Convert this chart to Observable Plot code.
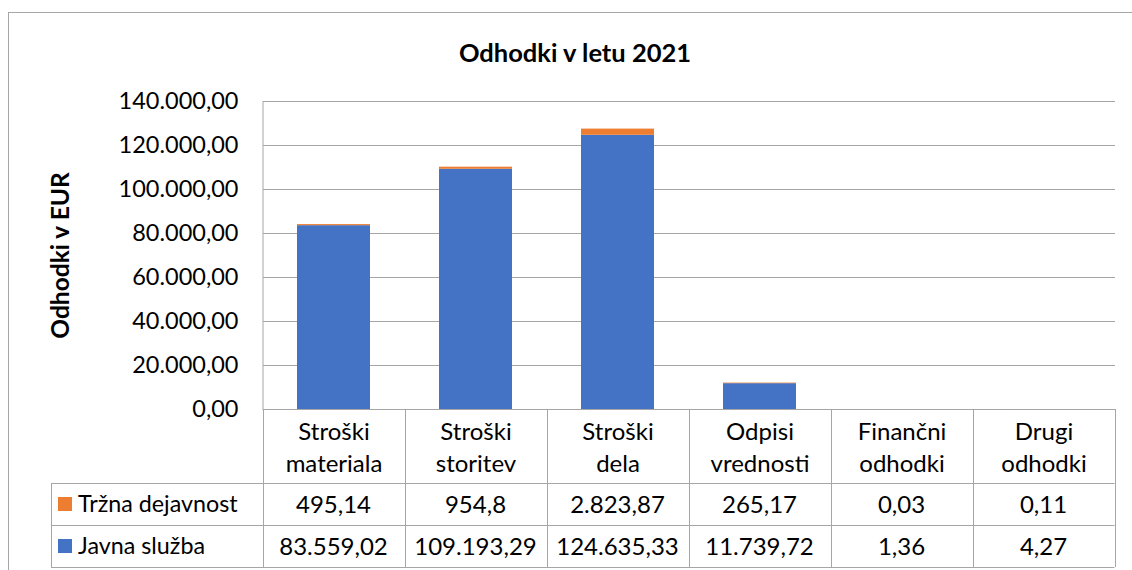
<!DOCTYPE html>
<html>
<head>
<meta charset="utf-8">
<script src="https://cdn.jsdelivr.net/npm/d3@7"></script>
<script src="https://cdn.jsdelivr.net/npm/@observablehq/plot@0.6"></script>
<style>
  html, body { margin: 0; padding: 0; background: #fff; }
  #wrap { position: relative; width: 1132px; height: 570px; overflow: hidden; font-family: Lato, "Noto Sans", sans-serif; }
  #border { position: absolute; left: 8px; top: 12px; width: 1140px; height: 600px; border: 1px solid #a6a6a6; box-sizing: border-box; }
  #title { position: absolute; left: 325px; width: 500px; top: 37px; line-height: 30px; text-align: center; font-weight: bold; font-size: 25.5px; color: #000; }
  #chart { position: absolute; left: 0; top: 0; }
  #chart svg [aria-label="y-axis label"] text { font-weight: bold; }
</style>
</head>
<body>
<div id="wrap">
  <div id="border"></div>
  <div id="title">Odhodki v letu 2021</div>
  <div id="chart"></div>
</div>
<script>
const categories = ["Stroški materiala", "Stroški storitev", "Stroški dela", "Odpisi vrednosti", "Finančni odhodki", "Drugi odhodki"];
const seriesNames = ["Javna služba", "Tržna dejavnost"];
const seriesColors = ["#4472c4", "#ed7d31"];
const javnaSluzba = [83559.02, 109193.29, 124635.33, 11739.72, 1.36, 4.27];
const trznaDejavnost = [495.14, 954.8, 2823.87, 265.17, 0.03, 0.11];
const yTicks = [0, 20000, 40000, 60000, 80000, 100000, 120000, 140000];

const FONT = "Lato, 'Noto Sans', sans-serif";
const loc = d3.formatLocale({decimal: ",", thousands: ".", grouping: [3], currency: ["", " €"]});
const fmtAxis = loc.format(",.2f");
const fmtCell = loc.format(",.2~f");

const data = [];
categories.forEach((c, i) => {
  data.push({category: c, series: seriesNames[0], value: javnaSluzba[i]});
  data.push({category: c, series: seriesNames[1], value: trznaDejavnost[i]});
});

const W = 1132, H = 570;
const mL = 263, mR = 17, mT = 101, mB = 161;
const gridColor = "#a6a6a6";

const plot = Plot.plot({
  width: W, height: H,
  marginLeft: mL, marginRight: mR, marginTop: mT, marginBottom: mB,
  style: {fontFamily: FONT, fontSize: "24px", color: "#000", background: "transparent", overflow: "visible"},
  x: {domain: categories, paddingInner: 0.485, paddingOuter: 0.2425, label: null},
  y: {domain: [0, 140000], label: "Odhodki v EUR"},
  color: {domain: seriesNames, range: seriesColors},
  marks: [
    Plot.gridY(yTicks, {stroke: gridColor, strokeOpacity: 1, strokeWidth: 1}),
    Plot.barY(data, {x: "category", y: "value", fill: "series"}),
    Plot.axisY(yTicks, {tickSize: 0, tickPadding: 25, tickFormat: fmtAxis, fontSize: 23.5,
      label: "Odhodki v EUR", labelAnchor: "center", labelOffset: 212, labelArrow: "none"}),
    Plot.axisX({tickSize: 0, tickPadding: 8, fontSize: 24, lineHeight: 1.333,
      tickFormat: d => d.replace(" ", "\n"), label: null})
  ]
});
document.getElementById("chart").appendChild(plot);
d3.select(plot).select('[aria-label="y-axis label"]').attr("font-size", 24.5);

// data table under the chart, aligned with the band scale
const svg = d3.select(plot);
const xs = plot.scale("x");
const ys = plot.scale("y");
const step = xs.step, bw = xs.bandwidth;
const colLeft = c => xs.apply(c) - (step - bw) / 2;
const y0 = ys.apply(0);
const rowH = 42;
const catBottom = y0 + 74;
const rows = [
  {name: "Tržna dejavnost", color: seriesColors[1], values: trznaDejavnost},
  {name: "Javna služba", color: seriesColors[0], values: javnaSluzba}
];
const tableLeft = 51;
const plotLeft = colLeft(categories[0]);
const plotRight = colLeft(categories[categories.length - 1]) + step;
const g = svg.append("g").attr("stroke", gridColor).attr("stroke-width", 1).attr("fill", "none");
g.append("line").attr("x1", plotLeft + 0.5).attr("x2", plotLeft + 0.5).attr("y1", ys.apply(140000)).attr("y2", y0);
g.append("line").attr("x1", plotLeft).attr("x2", plotRight).attr("y1", y0 + 0.5).attr("y2", y0 + 0.5);
categories.forEach(c => {
  const x = Math.round(colLeft(c)) + 0.5;
  g.append("line").attr("x1", x).attr("x2", x).attr("y1", y0).attr("y2", catBottom + 2 * rowH);
});
g.append("line").attr("x1", Math.round(plotRight) + 0.5).attr("x2", Math.round(plotRight) + 0.5).attr("y1", y0).attr("y2", catBottom + 2 * rowH);
g.append("line").attr("x1", tableLeft + 0.5).attr("x2", tableLeft + 0.5).attr("y1", catBottom).attr("y2", catBottom + 2 * rowH);
[0, 1, 2].forEach(k => {
  const y = Math.round(catBottom + k * rowH) + 0.5;
  g.append("line").attr("x1", tableLeft).attr("x2", plotRight).attr("y1", y).attr("y2", y);
});
const tg = svg.append("g").attr("font-family", FONT).attr("font-size", 24).attr("fill", "#000");
rows.forEach((r, k) => {
  const cy = catBottom + k * rowH + rowH / 2;
  tg.append("rect").attr("x", 58).attr("y", cy - 7).attr("width", 14).attr("height", 14).attr("fill", r.color);
  tg.append("text").attr("x", 78).attr("y", cy).attr("dy", "0.36em").attr("text-anchor", "start")
    .attr("font-size", 23.3).text(r.name);
  categories.forEach((c, i) => {
    tg.append("text").attr("x", xs.apply(c) + bw / 2).attr("y", cy).attr("dy", "0.36em")
      .attr("text-anchor", "middle").text(fmtCell(r.values[i]));
  });
});
</script>
</body>
</html>
